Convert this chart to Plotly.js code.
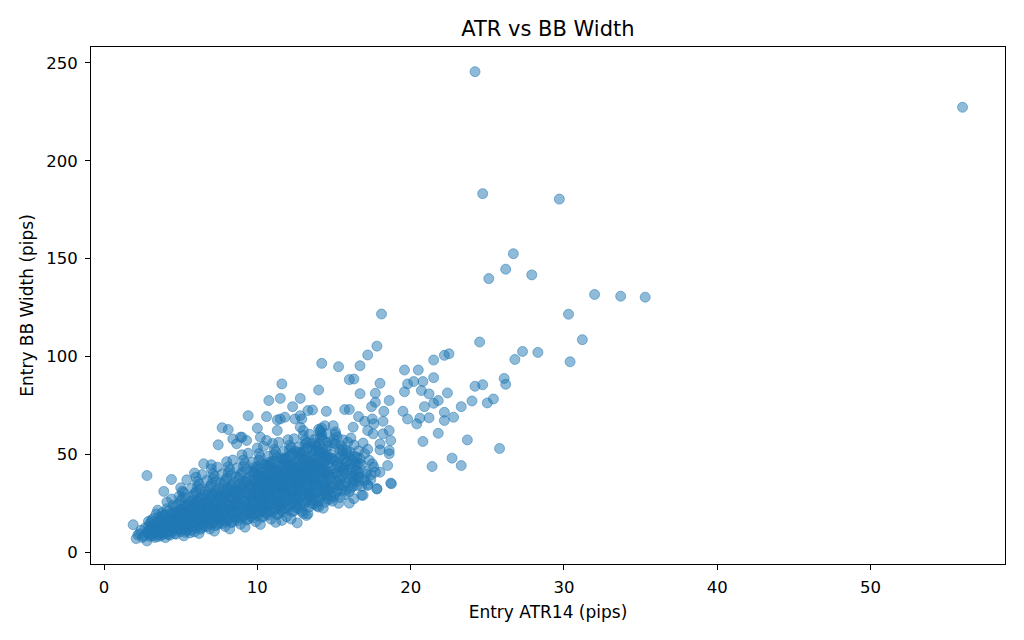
<!DOCTYPE html>
<html>
<head>
<meta charset="utf-8">
<script src="https://cdn.plot.ly/plotly-3.0.1.min.js"></script>
<style>
  html, body { margin: 0; padding: 0; background: #fff; }
  #scatter { width: 1024px; height: 640px; }
</style>
</head>
<body>
<div id="scatter"></div>
<script>
// Entry ATR14 (pips), dense cloud first
const atr14 = [
  1.9, 2.1, 2.3, 2.4, 2.6, 2.7, 2.8, 2.5, 2.9, 2.2,
  2.8, 3.0, 3.1, 3.2, 3.3, 3.4, 3.5, 3.0, 3.2, 3.6,
  2.9, 3.1, 3.3, 3.5, 3.4, 3.6, 3.2, 3.0, 3.5, 3.3,
  3.1, 3.4, 3.6, 2.9, 3.3, 3.5, 3.2, 3.6, 3.0, 3.4,
  3.7, 3.8, 3.9, 4.0, 4.1, 4.2, 4.3, 4.4, 4.5, 4.6,
  3.8, 4.0, 4.2, 4.4, 4.6, 3.7, 3.9, 4.1, 4.3, 4.5,
  4.0, 4.2, 3.8, 4.4, 4.6, 4.1, 4.3, 3.9, 4.5, 4.2,
  4.1, 3.7, 4.5, 4.3, 3.9, 4.6, 4.0, 4.4, 4.2, 3.8,
  4.7, 4.8, 4.9, 5.0, 5.1, 5.2, 5.3, 5.4, 5.5, 5.6,
  4.8, 5.0, 5.2, 5.4, 5.6, 4.7, 4.9, 5.1, 5.3, 5.5,
  5.0, 5.2, 4.8, 5.4, 5.6, 5.1, 5.3, 4.9, 5.5, 4.7,
  5.1, 4.7, 5.5, 5.3, 4.9, 5.6, 5.0, 5.4, 5.2, 4.8,
  5.2, 5.0, 4.9, 5.5, 5.3, 4.8, 5.6, 5.1, 5.4, 4.7,
  4.75, 4.85, 4.95, 5.05, 5.15, 5.25, 5.35, 5.45, 5.55, 5.65,
  5.7, 5.8, 5.9, 6.0, 6.1, 6.2, 6.3, 6.4, 6.5, 6.6,
  5.8, 6.0, 6.2, 6.4, 6.6, 5.7, 5.9, 6.1, 6.3, 6.5,
  6.0, 6.2, 5.8, 6.4, 6.6, 6.1, 6.3, 5.9, 6.5, 5.7,
  6.1, 5.7, 6.5, 6.3, 5.9, 6.6, 6.0, 6.4, 6.2, 5.8,
  6.2, 6.0, 5.9, 6.5, 6.3, 5.8, 6.6, 6.1, 6.4, 5.7,
  5.75, 5.85, 5.95, 6.05, 6.15, 6.25, 6.35, 6.45, 6.55, 6.65,
  6.7, 6.8, 6.9, 7.0, 7.1, 7.2, 7.3, 7.4, 7.5, 7.6,
  6.8, 7.0, 7.2, 7.4, 7.6, 6.7, 6.9, 7.1, 7.3, 7.5,
  7.0, 7.2, 6.8, 7.4, 7.6, 7.1, 7.3, 6.9, 7.5, 6.7,
  7.1, 6.7, 7.5, 7.3, 6.9, 7.6, 7.0, 7.4, 7.2, 6.8,
  7.2, 7.0, 6.9, 7.5, 7.3, 6.8, 7.6, 7.1, 7.4, 6.7,
  6.75, 6.85, 6.95, 7.05, 7.15, 7.25, 7.35, 7.45, 7.55, 7.65,
  7.7, 7.8, 7.9, 8.0, 8.1, 8.2, 8.3, 8.4, 8.5, 8.6,
  7.8, 8.0, 8.2, 8.4, 8.6, 7.7, 7.9, 8.1, 8.3, 8.5,
  8.0, 8.2, 7.8, 8.4, 8.6, 8.1, 8.3, 7.9, 8.5, 7.7,
  8.1, 7.7, 8.5, 8.3, 7.9, 8.6, 8.0, 8.4, 8.2, 7.8,
  8.2, 8.0, 7.9, 8.5, 8.3, 7.8, 8.6, 8.1, 8.4, 7.7,
  7.75, 7.85, 7.95, 8.05, 8.15, 8.25, 8.35, 8.45, 8.55, 8.65,
  8.7, 8.8, 8.9, 9.0, 9.1, 9.2, 9.3, 9.4, 9.5, 9.6,
  8.8, 9.0, 9.2, 9.4, 9.6, 8.7, 8.9, 9.1, 9.3, 9.5,
  9.0, 9.2, 8.8, 9.4, 9.6, 9.1, 9.3, 8.9, 9.5, 8.7,
  9.1, 8.7, 9.5, 9.3, 8.9, 9.6, 9.0, 9.4, 9.2, 8.8,
  9.2, 9.0, 8.9, 9.5, 9.3, 8.8, 9.6, 9.1, 9.4, 8.7,
  8.75, 8.85, 8.95, 9.05, 9.15, 9.25, 9.35, 9.45, 9.55, 9.65,
  9.7, 9.8, 9.9, 10.0, 10.1, 10.2, 10.3, 10.4, 10.5, 10.6,
  9.8, 10.0, 10.2, 10.4, 10.6, 9.7, 9.9, 10.1, 10.3, 10.5,
  10.0, 10.2, 9.8, 10.4, 10.6, 10.1, 10.3, 9.9, 10.5, 9.7,
  10.1, 9.7, 10.5, 10.3, 9.9, 10.6, 10.0, 10.4, 10.2, 9.8,
  10.2, 10.0, 9.9, 10.5, 10.3, 9.8, 10.6, 10.1, 10.4, 9.7,
  10.3, 9.9, 10.1, 10.5, 9.8, 10.2, 10.4, 10.0, 10.6, 9.7,
  9.75, 9.85, 9.95, 10.05, 10.15, 10.25, 10.35, 10.45, 10.55, 10.65,
  9.72, 9.92, 10.12, 10.32, 10.52, 9.82, 10.02, 10.22, 10.42, 10.62,
  10.7, 10.8, 10.9, 11.0, 11.1, 11.2, 11.3, 11.4, 11.5, 11.6,
  10.8, 11.0, 11.2, 11.4, 11.6, 10.7, 10.9, 11.1, 11.3, 11.5,
  11.0, 11.2, 10.8, 11.4, 11.6, 11.1, 11.3, 10.9, 11.5, 10.7,
  11.1, 10.7, 11.5, 11.3, 10.9, 11.6, 11.0, 11.4, 11.2, 10.8,
  11.2, 11.0, 10.9, 11.5, 11.3, 10.8, 11.6, 11.1, 11.4, 10.7,
  11.3, 10.9, 11.1, 11.5, 10.8, 11.2, 11.4, 11.0, 11.6, 10.7,
  10.75, 10.85, 10.95, 11.05, 11.15, 11.25, 11.35, 11.45, 11.55, 11.65,
  10.72, 10.92, 11.12, 11.32, 11.52, 10.82, 11.02, 11.22, 11.42, 11.62,
  11.7, 11.8, 11.9, 12.0, 12.1, 12.2, 12.3, 12.4, 12.5, 12.6,
  11.8, 12.0, 12.2, 12.4, 12.6, 11.7, 11.9, 12.1, 12.3, 12.5,
  12.0, 12.2, 11.8, 12.4, 12.6, 12.1, 12.3, 11.9, 12.5, 11.7,
  12.1, 11.7, 12.5, 12.3, 11.9, 12.6, 12.0, 12.4, 12.2, 11.8,
  12.2, 12.0, 11.9, 12.5, 12.3, 11.8, 12.6, 12.1, 12.4, 11.7,
  12.3, 11.9, 12.1, 12.5, 11.8, 12.2, 12.4, 12.0, 12.6, 11.7,
  11.75, 11.85, 11.95, 12.05, 12.15, 12.25, 12.35, 12.45, 12.55, 12.65,
  11.72, 11.92, 12.12, 12.32, 12.52, 11.82, 12.02, 12.22, 12.42, 12.62,
  12.7, 12.8, 12.9, 13.0, 13.1, 13.2, 13.3, 13.4, 13.5, 13.6,
  12.8, 13.0, 13.2, 13.4, 13.6, 12.7, 12.9, 13.1, 13.3, 13.5,
  13.0, 13.2, 12.8, 13.4, 13.6, 13.1, 13.3, 12.9, 13.5, 12.7,
  13.1, 12.7, 13.5, 13.3, 12.9, 13.6, 13.0, 13.4, 13.2, 12.8,
  13.2, 13.0, 12.9, 13.5, 13.3, 12.8, 13.6, 13.1, 13.4, 12.7,
  13.3, 12.9, 13.1, 13.5, 12.8, 13.2, 13.4, 13.0, 13.6, 12.7,
  12.75, 12.85, 12.95, 13.05, 13.15, 13.25, 13.35, 13.45, 13.55, 13.65,
  12.72, 12.92, 13.12, 13.32, 13.52, 12.82, 13.02, 13.22, 13.42, 13.62,
  13.7, 13.8, 13.9, 14.0, 14.1, 14.2, 14.3, 14.4, 14.5, 14.6,
  13.8, 14.0, 14.2, 14.4, 14.6, 13.7, 13.9, 14.1, 14.3, 14.5,
  14.0, 14.2, 13.8, 14.4, 14.6, 14.1, 14.3, 13.9, 14.5, 13.7,
  14.1, 13.7, 14.5, 14.3, 13.9, 14.6, 14.0, 14.4, 14.2, 13.8,
  14.2, 14.0, 13.9, 14.5, 14.3, 13.8, 14.6, 14.1, 14.4, 13.7,
  14.3, 13.9, 14.1, 14.5, 13.8, 14.2, 14.4, 14.0, 14.6, 13.7,
  13.75, 13.85, 13.95, 14.05, 14.15, 14.25, 14.35, 14.45, 14.55, 14.65,
  13.72, 13.92, 14.12, 14.32, 14.52, 13.82, 14.02, 14.22, 14.42, 14.62,
  14.7, 14.8, 14.9, 15.0, 15.1, 15.2, 15.3, 15.4, 15.5, 15.6,
  14.8, 15.0, 15.2, 15.4, 15.6, 14.7, 14.9, 15.1, 15.3, 15.5,
  15.0, 15.2, 14.8, 15.4, 15.6, 15.1, 15.3, 14.9, 15.5, 14.7,
  15.1, 14.7, 15.5, 15.3, 14.9, 15.6, 15.0, 15.4, 15.2, 14.8,
  14.75, 14.85, 14.95, 15.05, 15.15, 15.25, 15.35, 15.45, 15.55, 15.65,
  15.7, 15.8, 15.9, 16.0, 16.1, 16.2, 16.3, 16.4, 16.5, 16.6,
  15.8, 16.0, 16.2, 16.4, 16.6, 15.7, 15.9, 16.1, 16.3, 16.5,
  16.0, 16.2, 15.8, 16.4, 16.6, 16.1, 16.3, 15.9, 16.5, 15.7,
  15.75, 15.85, 15.95, 16.05, 16.15, 16.25, 16.35, 16.45, 16.55, 16.65,
  16.7, 16.8, 16.9, 17.0, 17.1, 17.2, 17.3, 17.4, 17.6, 17.8,
  16.8, 17.0, 17.2, 17.5, 16.7, 17.1, 17.4, 16.9, 17.7, 18.0,
  // loose points round the cloud
  2.8, 4.4, 3.9, 5.4, 5.9, 6.5, 7.0, 7.45, 7.7, 8.1,
  8.4, 8.65, 8.9, 9.0, 9.3, 9.4, 10.0, 10.2, 10.6, 10.6,
  10.75, 11.3, 11.3, 11.5, 11.5, 11.6, 11.8, 12.3, 12.45, 12.8,
  12.8, 12.8, 12.9, 13.0, 13.3, 13.6, 14.0, 14.1, 14.2, 14.5,
  14.95, 15.3, 15.7, 16.0, 16.0, 16.25, 16.3, 16.6, 16.7, 16.7,
  17.0, 17.2, 17.2, 17.45, 17.5, 17.55, 17.6, 17.7, 17.7, 17.8,
  18.0, 18.0, 18.1, 18.2, 18.2, 18.25, 18.6, 18.6, 18.6, 18.7,
  11.6, 12.6, 13.0, 14.0, 16.0, 16.8, 17.2, 17.8, 18.0, 18.5,
  18.6, 18.75, 18.7, 19.5, 19.6, 19.6, 19.8, 19.8, 20.2, 20.4,
  20.5, 20.6, 20.7, 20.8, 20.8, 20.9, 21.2, 21.2, 21.4, 21.5,
  21.5, 21.5, 21.8, 21.8, 22.2, 22.2, 22.2, 22.4, 22.5, 22.7,
  22.8, 23.3, 23.3, 23.7, 24.0, 24.2, 24.5, 24.7, 25.0, 25.4,
  25.8, 26.1, 26.2, 26.8, 27.3, 28.3, 30.4, 31.2, 30.3, 32.0,
  33.7, 35.3, 25.1, 26.2, 27.9, 26.7, 24.7, 29.7, 24.2, 56.0
];

// Entry BB Width (pips), same order as atr14
const bbWidth = [
  14.1, 7.0, 9.5, 11.2, 8.3, 12.6, 10.1, 7.6, 15.8, 8.8,
  5.8, 8.1, 9.4, 10.6, 12.2, 13.5, 11.0, 14.8, 17.3, 9.2,
  10.9, 12.8, 7.6, 15.9, 19.6, 12.4, 8.5, 11.7, 21.5, 14.2,
  16.2, 9.8, 18.1, 13.3, 10.4, 7.9, 13.1, 14.9, 9.0, 11.6,
  8.4, 11.5, 14.2, 16.8, 10.1, 13.0, 19.5, 12.1, 15.3, 9.6,
  17.9, 12.7, 21.3, 10.8, 18.4, 13.6, 9.3, 15.6, 14.0, 24.1,
  7.5, 16.4, 20.2, 13.9, 11.3, 25.7, 8.7, 18.9, 20.6, 11.2,
  22.3, 15.8, 17.1, 16.9, 12.3, 14.4, 19.0, 27.2, 9.1, 10.2,
  9.2, 13.4, 16.7, 20.1, 11.8, 14.9, 22.6, 18.3, 12.5, 26.0,
  24.5, 10.6, 19.2, 15.7, 13.8, 17.6, 21.4, 27.9, 10.2, 20.8,
  15.1, 12.0, 11.7, 23.9, 17.4, 18.8, 14.3, 28.6, 16.2, 20.3,
  31.2, 12.9, 24.7, 17.8, 13.6, 21.9, 26.4, 11.1, 30.5, 19.7,
  8.4, 33.0, 18.5, 14.0, 28.1, 15.5, 9.9, 22.0, 20.9, 23.3,
  15.9, 19.4, 12.6, 22.1, 16.9, 24.0, 19.0, 13.1, 21.7, 18.0,
  11.3, 15.6, 19.9, 24.2, 13.7, 17.4, 28.3, 21.6, 14.8, 31.0,
  26.7, 12.3, 22.8, 18.1, 16.0, 20.5, 24.9, 33.6, 11.8, 25.2,
  17.0, 14.4, 13.2, 27.5, 20.7, 21.3, 16.5, 30.1, 19.4, 23.8,
  36.2, 15.0, 29.4, 19.7, 10.4, 24.5, 30.8, 12.6, 34.9, 18.6,
  9.6, 38.4, 22.1, 17.3, 32.2, 28.9, 13.5, 26.0, 39.7, 32.6,
  18.2, 22.5, 15.3, 26.4, 19.1, 27.0, 22.7, 16.4, 24.8, 20.4,
  13.1, 17.5, 22.3, 27.0, 15.4, 19.8, 31.6, 24.4, 16.6, 35.3,
  29.4, 14.2, 25.6, 20.3, 18.0, 23.1, 27.8, 37.5, 13.6, 28.7,
  19.0, 16.1, 15.0, 30.6, 23.2, 24.0, 18.4, 33.7, 21.7, 26.3,
  40.1, 17.2, 32.9, 22.0, 11.9, 27.5, 34.8, 14.3, 38.9, 20.9,
  10.8, 42.6, 25.1, 19.5, 36.0, 32.3, 15.2, 29.0, 43.5, 36.7,
  20.1, 25.3, 17.2, 29.5, 21.4, 30.2, 25.5, 18.1, 27.7, 22.6,
  14.6, 19.3, 24.5, 29.6, 17.0, 21.8, 34.4, 26.9, 18.2, 38.5,
  32.0, 15.8, 28.2, 22.5, 20.0, 25.4, 30.3, 40.8, 15.1, 31.4,
  21.0, 17.9, 16.5, 33.6, 25.6, 26.4, 20.4, 36.9, 23.7, 28.8,
  43.7, 19.0, 35.8, 24.2, 13.2, 30.0, 37.9, 15.7, 42.2, 23.0,
  11.9, 46.3, 27.6, 21.4, 39.2, 35.3, 16.9, 31.7, 47.1, 40.0,
  22.0, 27.9, 19.0, 32.4, 23.6, 33.1, 28.0, 19.8, 30.4, 24.9,
  16.0, 21.1, 26.6, 32.0, 18.6, 23.7, 37.1, 29.2, 19.9, 41.4,
  34.6, 17.3, 30.5, 24.4, 21.8, 27.5, 32.8, 44.0, 16.4, 34.0,
  22.7, 19.4, 18.0, 36.3, 27.7, 28.6, 22.1, 39.8, 25.7, 31.2,
  47.2, 20.6, 38.6, 26.2, 14.3, 32.5, 40.9, 17.0, 45.5, 25.0,
  12.8, 49.8, 29.9, 23.2, 42.3, 38.1, 18.3, 34.3, 50.6, 43.2,
  24.0, 30.4, 20.8, 35.3, 25.8, 36.0, 30.5, 21.6, 33.1, 27.2,
  17.5, 22.9, 28.6, 34.3, 20.2, 25.6, 39.7, 31.4, 21.5, 44.2,
  37.0, 18.8, 32.7, 26.2, 23.5, 29.5, 35.2, 47.0, 17.8, 36.4,
  24.4, 21.0, 19.6, 38.8, 29.8, 30.8, 23.9, 42.6, 27.6, 33.4,
  50.4, 22.2, 41.2, 28.1, 15.6, 34.8, 43.8, 18.4, 48.6, 26.9,
  14.2, 53.3, 32.1, 24.9, 45.2, 40.7, 19.8, 36.7, 54.1, 46.1,
  33.0, 26.0, 39.0, 31.8, 43.5, 35.9, 22.7, 40.2, 38.0, 30.2,
  26.0, 32.9, 22.6, 38.2, 28.0, 39.0, 33.0, 23.5, 35.8, 29.4,
  41.0, 36.1, 30.0, 27.0, 44.8, 25.0, 31.2, 43.0, 34.5, 40.0,
  19.0, 24.6, 30.6, 36.6, 21.8, 27.5, 42.3, 33.5, 23.1, 47.0,
  39.4, 20.3, 34.9, 28.0, 25.2, 31.5, 37.5, 49.9, 19.2, 38.8,
  26.1, 22.6, 21.1, 41.3, 31.9, 32.9, 25.6, 45.3, 29.5, 35.6,
  52.6, 23.8, 43.8, 30.0, 16.9, 37.1, 46.6, 19.8, 51.4, 28.7,
  15.3, 55.6, 34.2, 26.6, 48.1, 43.3, 21.3, 39.1, 56.2, 49.0,
  35.2, 27.8, 41.5, 33.9, 46.0, 38.2, 24.2, 42.7, 40.4, 32.2,
  28.0, 35.4, 24.4, 41.0, 30.1, 42.0, 35.5, 25.3, 38.5, 31.6,
  44.1, 38.9, 32.3, 29.1, 48.2, 26.9, 33.6, 46.3, 37.1, 43.0,
  20.6, 26.3, 32.5, 38.8, 23.4, 29.4, 44.7, 35.6, 24.8, 49.5,
  41.7, 21.9, 37.1, 29.8, 27.0, 33.5, 39.8, 52.3, 20.7, 41.1,
  27.8, 24.3, 22.7, 43.6, 34.0, 35.0, 27.3, 47.6, 31.5, 37.8,
  54.7, 25.5, 46.2, 31.9, 18.2, 39.4, 48.9, 21.3, 53.6, 30.6,
  17.0, 57.5, 36.4, 28.3, 50.6, 45.7, 22.8, 41.4, 58.0, 51.5,
  37.3, 29.6, 43.9, 36.0, 48.2, 40.5, 26.0, 45.0, 42.8, 34.3,
  30.0, 37.9, 26.2, 43.9, 32.3, 45.0, 38.1, 27.2, 41.3, 33.9,
  47.3, 41.7, 34.6, 31.2, 51.5, 28.9, 36.0, 49.6, 39.7, 46.1,
  22.4, 28.3, 34.7, 41.2, 25.3, 31.5, 47.3, 37.9, 26.8, 52.2,
  44.2, 23.7, 39.5, 32.0, 29.0, 35.7, 42.4, 55.0, 19.6, 43.6,
  29.8, 26.2, 24.5, 46.2, 36.3, 37.3, 29.3, 50.2, 33.7, 40.2,
  57.2, 27.4, 48.8, 34.1, 20.9, 41.9, 51.5, 23.2, 56.0, 32.8,
  18.8, 59.6, 38.8, 30.4, 53.3, 48.4, 24.8, 43.9, 60.3, 53.8,
  39.6, 31.7, 46.5, 38.3, 50.7, 43.0, 28.0, 47.6, 45.3, 36.5,
  32.4, 40.9, 28.3, 47.4, 34.9, 48.6, 41.1, 29.4, 44.6, 36.6,
  51.1, 45.0, 37.4, 33.7, 55.6, 31.2, 38.9, 53.6, 42.9, 49.8,
  24.6, 30.6, 37.4, 44.3, 27.6, 34.1, 50.9, 40.8, 29.2, 56.1,
  47.4, 25.9, 42.6, 34.6, 31.5, 38.5, 45.6, 58.9, 22.5, 47.0,
  32.3, 28.6, 26.7, 49.7, 39.2, 40.2, 31.7, 53.8, 36.4, 43.3,
  61.2, 29.8, 52.4, 36.8, 23.6, 45.1, 55.3, 25.5, 60.1, 35.4,
  63.5, 62.8, 41.8, 33.0, 57.1, 52.0, 27.2, 47.3, 64.6, 57.6,
  42.4, 34.2, 49.9, 41.3, 54.4, 46.3, 30.2, 51.2, 48.7, 39.4,
  35.3, 44.6, 30.9, 51.7, 38.0, 53.0, 44.8, 32.0, 48.6, 39.9,
  55.7, 49.0, 40.8, 36.7, 60.6, 34.0, 42.4, 58.4, 46.8, 54.3,
  27.0, 33.2, 40.0, 46.8, 30.1, 36.6, 53.2, 43.4, 31.6, 57.4,
  50.0, 28.4, 45.1, 37.1, 34.0, 41.1, 48.1, 60.2, 25.0, 49.5,
  34.8, 31.1, 29.2, 52.1, 41.7, 42.7, 34.2, 56.0, 38.9, 45.8,
  61.5, 32.3, 54.4, 39.3, 26.1, 47.5, 57.6, 28.0, 59.0, 37.9,
  38.0, 47.9, 33.2, 55.5, 40.8, 44.0, 48.1, 34.4, 52.2, 42.8,
  29.5, 35.6, 42.4, 48.9, 32.6, 39.0, 54.8, 45.7, 34.0, 51.8,
  52.0, 30.9, 47.2, 39.6, 36.5, 43.6, 50.3, 58.4, 27.4, 44.5,
  37.3, 33.6, 31.7, 41.8, 40.6, 45.1, 36.8, 56.2, 48.4, 47.9,
  40.4, 46.1, 38.0, 51.2, 43.2, 35.8, 49.0, 42.0, 38.6, 45.5,
  38.2, 44.9, 29.1, 50.5, 41.3, 34.6, 47.0, 39.5, 43.6, 32.4,
  33.8, 36.7, 52.6, 45.2, 47.9, 40.0, 37.0, 55.8, 40.9, 52.3,
  // loose points round the cloud
  39.2, 37.2, 31.1, 37.0, 40.5, 45.2, 44.7, 54.9, 63.6, 62.7,
  57.9, 55.4, 58.8, 58.8, 57.1, 69.8, 63.4, 58.8, 69.3, 57.1,
  77.5, 67.6, 62.2, 78.6, 68.1, 86.0, 69.0, 74.4, 68.1, 78.6,
  69.8, 63.9, 68.1, 62.2, 72.4, 72.7, 82.9, 62.2, 96.5, 72.0,
  64.7, 94.8, 72.9, 72.9, 88.2, 63.9, 88.5, 69.3, 95.3, 81.0,
  66.9, 100.8, 62.2, 74.4, 68.1, 60.5, 65.6, 81.2, 76.6, 105.3,
  86.3, 55.4, 121.7, 66.9, 60.5, 72.0, 77.5, 62.2, 52.0, 57.1,
  16.3, 15.0, 19.7, 23.1, 25.1, 29.1, 34.1, 32.4, 40.9, 44.3,
  50.3, 35.0, 35.3, 72.0, 93.1, 82.0, 86.0, 68.1, 87.2, 65.6,
  93.1, 68.5, 82.6, 87.2, 56.6, 74.4, 80.9, 68.7, 43.8, 98.2,
  89.2, 76.1, 77.5, 60.8, 100.6, 71.5, 67.3, 81.4, 101.4, 48.1,
  69.0, 74.4, 44.3, 57.4, 77.3, 84.8, 107.4, 85.6, 76.3, 78.3,
  53.0, 88.8, 85.8, 98.5, 102.6, 102.1, 97.3, 108.6, 121.6, 131.7,
  130.8, 130.3, 139.8, 144.6, 141.7, 152.5, 183.2, 180.4, 245.5, 227.3
];

const xTicks = [0, 10, 20, 30, 40, 50];
const yTicks = [0, 50, 100, 150, 200, 250];

const dotColor = 'rgba(31, 119, 180, 0.5)';
const tickFont = { family: 'DejaVu Sans, sans-serif', size: 16.5, color: '#000' };
const labelFont = { family: 'DejaVu Sans, sans-serif', size: 17, color: '#000' };

const trace = {
  x: atr14,
  y: bbWidth,
  type: 'scatter',
  mode: 'markers',
  marker: {
    size: 10,
    color: dotColor,
    line: { color: dotColor, width: 1 },
  },
  hoverinfo: 'x+y',
};

const layout = {
  width: 1024,
  height: 640,
  margin: { l: 91, r: 19, t: 47, b: 76 },
  paper_bgcolor: '#fff',
  plot_bgcolor: '#fff',
  font: tickFont,
  showlegend: false,
  title: {
    text: 'ATR vs BB Width',
    font: { family: 'DejaVu Sans, sans-serif', size: 21, color: '#000' },
    x: 0.535,
    xanchor: 'center',
    y: 0.956,
    yanchor: 'middle',
    yref: 'container',
  },
  xaxis: {
    range: [-0.85, 58.77],
    tickvals: xTicks,
    ticks: 'outside',
    ticklen: 5,
    tickwidth: 1,
    tickcolor: '#000',
    ticklabelstandoff: 3,
    showline: true,
    mirror: true,
    linecolor: '#000',
    linewidth: 1,
    showgrid: false,
    zeroline: false,
    automargin: false,
    tickfont: tickFont,
    title: { text: 'Entry ATR14 (pips)', font: labelFont, standoff: 10 },
  },
  yaxis: {
    range: [-5.98, 258.1],
    tickvals: yTicks,
    ticks: 'outside',
    ticklen: 5,
    tickwidth: 1,
    tickcolor: '#000',
    ticklabelstandoff: 4,
    showline: true,
    mirror: true,
    linecolor: '#000',
    linewidth: 1,
    showgrid: false,
    zeroline: false,
    automargin: false,
    tickfont: tickFont,
    title: { text: 'Entry BB Width (pips)', font: labelFont, standoff: 8 },
  },
};

Plotly.newPlot('scatter', [trace], layout, { displayModeBar: false, staticPlot: true });
</script>
</body>
</html>
